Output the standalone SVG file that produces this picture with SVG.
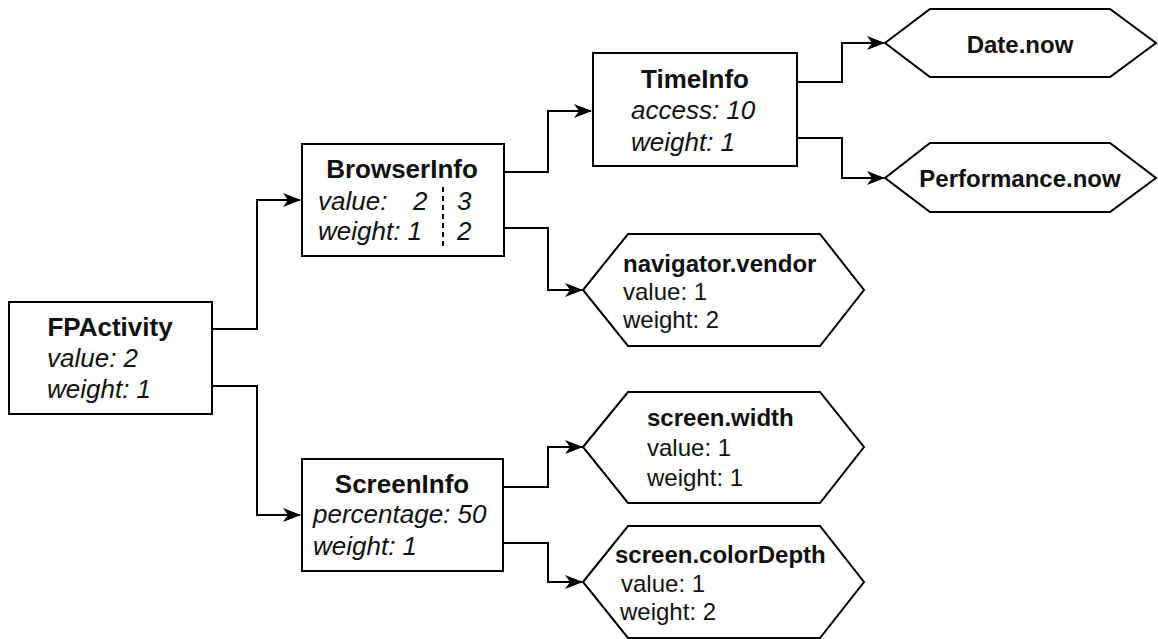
<svg xmlns="http://www.w3.org/2000/svg" width="1158" height="639" viewBox="0 0 1158 639">
<style>
.box{fill:#fff;stroke:#000;stroke-width:2}
.t{font-family:"Liberation Sans",Arial,sans-serif;fill:#111}
.bt{font-size:26px;font-weight:bold}
.it{font-size:26px;font-style:italic}
.ht{font-size:24px;font-weight:bold}
.hr{font-size:24px}
.c{text-anchor:middle}
.edge{fill:none;stroke:#000;stroke-width:2}
</style>
<defs>
<marker id="arr" markerUnits="userSpaceOnUse" viewBox="0 0 18 14" refX="17" refY="7" markerWidth="18" markerHeight="14" orient="auto">
<path d="M0,0 L18,7 L0,14 L5,7 z" fill="#000"/>
</marker>
</defs>
<rect width="1158" height="639" fill="#fff"/>
<g id="connectors">
<path class="edge" d="M212,329 H257 V200 H300" marker-end="url(#arr)"/>
<path class="edge" d="M212,386 H257 V515 H300" marker-end="url(#arr)"/>
<path class="edge" d="M504,172 H548 V111 H591" marker-end="url(#arr)"/>
<path class="edge" d="M504,228 H548 V290 H582" marker-end="url(#arr)"/>
<path class="edge" d="M797,82 H842 V43 H884" marker-end="url(#arr)"/>
<path class="edge" d="M797,138 H842 V178 H884" marker-end="url(#arr)"/>
<path class="edge" d="M503,487 H548 V447 H582" marker-end="url(#arr)"/>
<path class="edge" d="M503,543 H548 V582 H582" marker-end="url(#arr)"/>
</g>
<g id="FPActivity">
<rect class="box" x="9" y="302" width="203" height="112"/>
<text class="t bt c" x="110" y="336">FPActivity</text>
<text class="t it" x="47" y="367">value: 2</text>
<text class="t it" x="47" y="398">weight: 1</text>
</g>
<g id="BrowserInfo">
<rect class="box" x="302" y="144" width="202" height="112"/>
<text class="t bt c" x="402" y="178">BrowserInfo</text>
<text class="t it" x="318" y="210">value:</text>
<text class="t it" x="413" y="210">2</text>
<text class="t it" x="457" y="210">3</text>
<text class="t it" x="318" y="240">weight: 1</text>
<text class="t it" x="457" y="240">2</text>
<line x1="443" y1="187" x2="443" y2="247" stroke="#000" stroke-width="2" stroke-dasharray="5,4"/>
</g>
<g id="TimeInfo">
<rect class="box" x="593" y="53" width="204" height="113"/>
<text class="t bt c" x="695" y="88">TimeInfo</text>
<text class="t it" x="631" y="119">access: 10</text>
<text class="t it" x="631" y="151">weight: 1</text>
</g>
<g id="ScreenInfo">
<rect class="box" x="302" y="459" width="201" height="112"/>
<text class="t bt c" x="402" y="493">ScreenInfo</text>
<text class="t it" x="313" y="523">percentage: 50</text>
<text class="t it" x="313" y="555">weight: 1</text>
</g>
<g id="DateNow">
<polygon class="box" points="885,43 930,9 1110,9 1156,43 1110,77 930,77"/>
<text class="t ht c" x="1020" y="53">Date.now</text>
</g>
<g id="PerformanceNow">
<polygon class="box" points="885,178 930,143 1110,143 1156,178 1110,212 930,212"/>
<text class="t ht c" x="1020" y="187">Performance.now</text>
</g>
<g id="navigatorVendor">
<polygon class="box" points="583,290 628,234 820,234 864,290 820,346 628,346"/>
<text class="t ht" x="623" y="272">navigator.vendor</text>
<text class="t hr" x="623" y="300">value: 1</text>
<text class="t hr" x="623" y="328">weight: 2</text>
</g>
<g id="screenWidth">
<polygon class="box" points="583,447 628,392 820,392 864,447 820,503 628,503"/>
<text class="t ht" x="647" y="426">screen.width</text>
<text class="t hr" x="647" y="456">value: 1</text>
<text class="t hr" x="647" y="486">weight: 1</text>
</g>
<g id="screenColorDepth">
<polygon class="box" points="583,582 628,526 820,526 864,582 820,638 628,638"/>
<text class="t ht" x="615" y="563">screen.colorDepth</text>
<text class="t hr" x="621" y="592">value: 1</text>
<text class="t hr" x="620" y="620">weight: 2</text>
</g>
</svg>
